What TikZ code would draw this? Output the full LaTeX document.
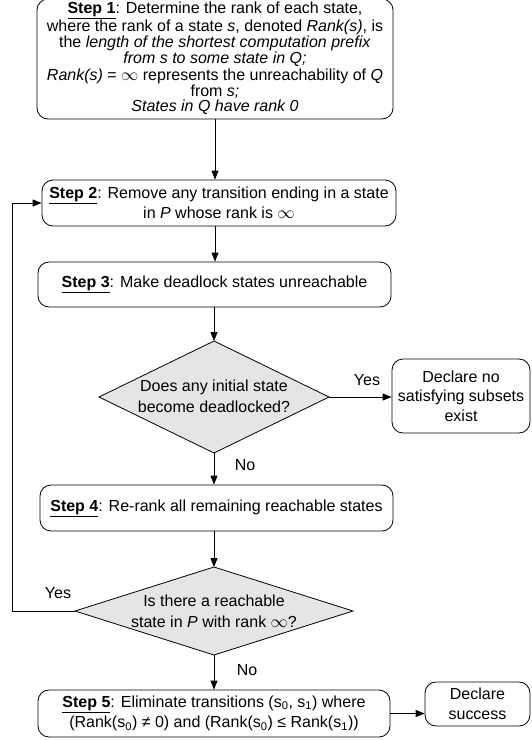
\documentclass[tikz,border=0pt]{standalone}
\usepackage{fontspec}
\setmainfont{Liberation Sans}
\usetikzlibrary{arrows.meta}
\begin{document}
\begin{tikzpicture}[x=1pt,y=-1pt,
  every node/.style={font=\fontsize{16}{19.5}\selectfont},
  box/.style={draw, rounded corners=11pt, align=center, inner sep=0pt, line width=0.8pt},
  decpath/.style={draw, fill=black!10, line width=0.8pt, line join=miter},
  arr/.style={-{Triangle[length=9pt,width=7pt]}, line width=0.8pt},
  lbl/.style={inner sep=0pt, align=center}]
\useasboundingbox (0,0) rectangle (531,740);

\draw[line width=0.8pt, rounded corners=11pt] (37,-1) rectangle (393,119);
\node[lbl, font=\fontsize{16}{15.8}\selectfont] (s1) at (215,58.5) {%
\underline{\textbf{Step 1}}: Determine the rank of each state,\\
where the rank of a state \textit{s}, denoted \textit{Rank(s)}, is\\
the \textit{length of the shortest computation prefix}\\
\textit{from s to some state in Q;}\\[1.5pt]
\textit{Rank(s)} = $\infty$ represents the unreachability of \textit{Q}\\
from \textit{s;}\\
\textit{States in Q have rank 0}};
\coordinate (s1b) at (215,119);

\node[box, minimum width=354pt, minimum height=46pt] (s2) at (219,203) {%
\underline{\textbf{Step 2}}: Remove any transition ending in a state\\
in \textit{P} whose rank is $\infty$};

\node[box, minimum width=353pt, minimum height=45pt] (s3) at (214.5,284.5) {%
\underline{\textbf{Step 3}}: Make deadlock states unreachable};

% decision 1
\coordinate (d1n) at (214,341);
\coordinate (d1s) at (214,453);
\coordinate (d1e) at (329,397);
\coordinate (d1w) at (99,397);
\draw[decpath] (d1n) -- (d1e) -- (d1s) -- (d1w) -- cycle;
\node[lbl, font=\fontsize{16}{21}\selectfont] (d1) at (214,396) {%
Does any initial state\\become deadlocked?};

\node[box, minimum width=138pt, minimum height=74pt] (nd) at (461,396) {%
Declare no\\satisfying subsets\\exist};

\node[box, minimum width=353pt, minimum height=46pt] (s4) at (216.5,508) {%
\underline{\textbf{Step 4}}: Re-rank all remaining reachable states};

% decision 2
\coordinate (d2n) at (214,567);
\coordinate (d2s) at (214,655);
\coordinate (d2e) at (353,611);
\coordinate (d2w) at (75,611);
\draw[decpath] (d2n) -- (d2e) -- (d2s) -- (d2w) -- cycle;
\node[lbl, font=\fontsize{16}{21}\selectfont] (d2) at (214,611) {%
Is there a reachable\\state in \textit{P} with rank $\infty$?};

\node[box, minimum width=352pt, minimum height=47pt, font=\fontsize{16}{20.5}\selectfont] (s5) at (214,713.5) {%
\underline{\textbf{Step 5}}: Eliminate transitions (s\textsubscript{0}, s\textsubscript{1}) where\\
(Rank(s\textsubscript{0}) ≠ 0) and (Rank(s\textsubscript{0}) ≤ Rank(s\textsubscript{1}))};

\node[box, minimum width=105pt, minimum height=44pt] (ds) at (477.5,704) {%
Declare\\success};

\coordinate (lp) at (12,611);

\draw[arr] (s1b) -- (s1b |- s2.north);
\draw[arr] (s1b |- s2.south) -- (s1b |- s3.north);
\draw[arr] (s3.south -| d1n) -- (d1n);
\draw[arr] (d1e) -- (d1e -| nd.west);
\draw[arr] (d1s) -- (d1s |- s4.north);
\draw[arr] (s4.south -| d2n) -- (d2n);
\draw[arr] (d2w) -- (lp) |- (s2.west);
\draw[arr] (d2s) -- (d2s |- s5.north);
\draw[arr] (s5.east) -- (s5.east -| ds.west);

\node[lbl] (y1) at (367,380) {Yes};
\node[lbl] (n1) at (245,465) {No};
\node[lbl] (y2) at (58,593) {Yes};
\node[lbl] (n2) at (247,670) {No};
\end{tikzpicture}
\end{document}
